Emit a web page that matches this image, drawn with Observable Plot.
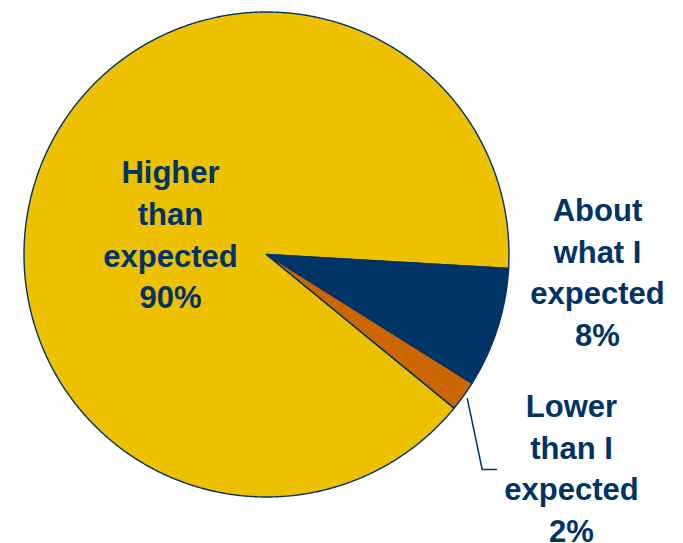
<!DOCTYPE html>
<html>
<head>
<meta charset="utf-8">
<script src="https://cdn.jsdelivr.net/npm/d3@7"></script>
<script src="https://cdn.jsdelivr.net/npm/@observablehq/plot@0.6"></script>
<style>
  html, body { margin: 0; padding: 0; background: #ffffff; }
  #chart svg { display: block; }
</style>
</head>
<body>
<div id="chart"></div>
<script>
// ---- data ----
const categories = ["Higher than expected", "About what I expected", "Lower than I expected"];
const values = [90, 8, 2];
const labelText = ["Higher\nthan\nexpected", "About\nwhat I\nexpected", "Lower\nthan I\nexpected"];

// ---- layout / style ----
const W = 683, H = 543;
const CX = 266, CY = 254, R = 242.5;          // pie centre and radius in pixels
const startDeg = 129.3;                        // where the first slice begins (clockwise from 12 o'clock)
const colors = ["#EDC000", "#003366", "#CC6600"];
const navy = "#003366";
const fontSize = 31;
// label anchor positions (pixels) — layout only
const labelPos = [[170, 232], [597, 269.5], [571, 465.5]];
const toPlane = ([px, py]) => [(px - CX) / R, (py - CY) / R];

// ---- build slices ----
const rows = categories.map((c, i) => ({category: c, value: values[i], label: `${labelText[i]}\n${values[i]}%`}));
const a0 = startDeg * Math.PI / 180;
const arcs = d3.pie().sort(null).value(d => d.value).startAngle(a0).endAngle(a0 + 2 * Math.PI)(rows);
const pt = (a, r = 1) => [r * Math.sin(a), -r * Math.cos(a)];
const step = Math.PI / 720;
const slices = arcs.map(arc => {
  const ring = [[0, 0]];
  const n = Math.max(2, Math.ceil((arc.endAngle - arc.startAngle) / step));
  for (let k = 0; k <= n; ++k) ring.push(pt(arc.startAngle + (arc.endAngle - arc.startAngle) * k / n));
  ring.push([0, 0]);
  return {type: "Feature", properties: {category: arc.data.category}, geometry: {type: "Polygon", coordinates: [ring]}};
});

// label data
const labels = rows.map((d, i) => {
  const [x, y] = toPlane(labelPos[i]);
  return {...d, x, y};
});

// leader line for the smallest slice
const small = arcs[2];
const mid = (small.startAngle + small.endAngle) / 2;
const leader = [pt(mid, 1.02), toPlane([481.7, 469]), toPlane([496, 469])].map(([x, y]) => ({x, y}));

const chart = Plot.plot({
  width: W,
  height: H,
  marginLeft: CX - R,
  marginRight: W - (CX + R),
  marginTop: CY - R,
  marginBottom: H - (CY + R),
  projection: {
    type: "identity",
    domain: {type: "MultiPoint", coordinates: [[-1, -1], [1, 1]]},
    clip: false
  },
  color: {domain: categories, range: colors},
  style: {fontFamily: "'Liberation Sans', Arial, sans-serif", background: "#ffffff", overflow: "visible"},
  marks: [
    Plot.geo(slices, {fill: d => d.properties.category, stroke: navy, strokeWidth: 1.4, strokeLinejoin: "round"}),
    Plot.line(leader, {x: "x", y: "y", stroke: navy, strokeWidth: 1.5, curve: "linear"}),
    Plot.text(labels, {
      x: "x", y: "y", text: "label",
      fill: navy, fontSize, fontWeight: "bold",
      lineHeight: 1.34, textAnchor: "middle", lineAnchor: "middle"
    })
  ]
});
document.getElementById("chart").appendChild(chart);
</script>
</body>
</html>
